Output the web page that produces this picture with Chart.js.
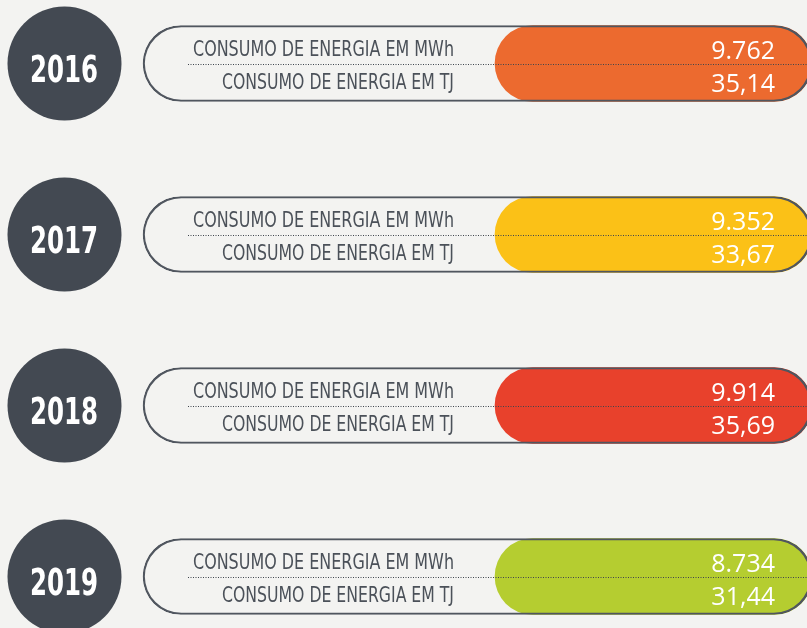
<!DOCTYPE html>
<html>
<head>
<meta charset="utf-8">
<script src="https://cdn.jsdelivr.net/npm/chart.js@4.4.1/dist/chart.umd.min.js"></script>
<style>
  html, body { margin: 0; padding: 0; background: #f3f3f1; width: 807px; height: 628px; overflow: hidden; }
  /* rows sit 171px apart, so the plot is taller than the window and shifted up */
  #wrap { position: absolute; left: 0; top: -22px; width: 807px; height: 684px; }
</style>
</head>
<body>
<div id="wrap"><canvas id="energyChart"></canvas></div>
<script>
// Energy consumption per year
const years = ['2016', '2017', '2018', '2019'];
const mwh = [9762, 9352, 9914, 8734];
const tj = [35.14, 33.67, 35.69, 31.44];
const pillColors = ['#ec6a2f', '#fbc117', '#e8412c', '#b5cd30'];
const labelMWh = 'CONSUMO DE ENERGIA EM MWh';
const labelTJ = 'CONSUMO DE ENERGIA EM TJ';

// Layout (pixels on the hidden x scale)
const OUTLINE = [143, 812];
const FILL = [495, 812];
const CIRCLE_X = 64.5;
const CONDENSED = '"Liberation Sans Narrow", "DejaVu Sans Condensed", "Roboto Condensed", sans-serif';

const fmtMWh = (v) => String(v).replace(/\B(?=(\d{3})+(?!\d))/g, '.');
const fmtTJ = (v) => v.toFixed(2).replace('.', ',');

// Text squeezed/stretched horizontally to a given width (condensed look)
function fitText(ctx, text, x, y, width, font, color, align) {
  ctx.save();
  ctx.font = font;
  const w = ctx.measureText(text).width;
  ctx.translate(x, y);
  ctx.scale(width / w, 1);
  ctx.fillStyle = color;
  ctx.textAlign = align;
  ctx.textBaseline = 'alphabetic';
  ctx.fillText(text, 0, 0);
  ctx.restore();
}

const rowText = {
  id: 'rowText',
  afterDatasetsDraw(chart) {
    const ctx = chart.ctx;
    const fills = chart.getDatasetMeta(1).data;
    const dots = chart.getDatasetMeta(2).data;
    years.forEach((yr, i) => {
      const bar = fills[i];
      const yc = bar.y;

      // dotted divider across the row
      ctx.save();
      ctx.strokeStyle = '#3f454d';
      ctx.lineWidth = 1;
      ctx.setLineDash([1, 1.5]);
      ctx.beginPath();
      ctx.moveTo(188, Math.round(yc) + 0.5);
      ctx.lineTo(chart.width, Math.round(yc) + 0.5);
      ctx.stroke();
      ctx.restore();

      // row labels
      const lx = bar.base - 41;
      fitText(ctx, labelMWh, lx, yc - 8, 261, '21.5px ' + CONDENSED, '#4b5159', 'right');
      fitText(ctx, labelTJ, lx, yc + 25, 232, '21.5px ' + CONDENSED, '#4b5159', 'right');

      // values
      ctx.save();
      ctx.fillStyle = '#ffffff';
      ctx.font = '25px "Open Sans", sans-serif';
      ctx.textAlign = 'right';
      ctx.textBaseline = 'alphabetic';
      ctx.fillText(fmtMWh(mwh[i]), bar.x - 37, yc - 5);
      ctx.fillText(fmtTJ(tj[i]), bar.x - 37, yc + 28.5);
      ctx.restore();

      // year inside the circle
      const p = dots[i];
      fitText(ctx, yr, p.x - 0.5, p.y + 18, 68, 'bold 37px ' + CONDENSED, '#ffffff', 'center');
    });
  },
};

new Chart(document.getElementById('energyChart'), {
  data: {
    labels: years,
    datasets: [
      {
        type: 'bar',
        data: years.map(() => OUTLINE),
        backgroundColor: 'rgba(0,0,0,0)',
        borderColor: '#50565f',
        borderWidth: 1.5,
        borderRadius: 38,
        borderSkipped: false,
        barThickness: 76,
        grouped: false,
        order: 0,
      },
      {
        type: 'bar',
        data: years.map(() => FILL),
        backgroundColor: pillColors,
        borderWidth: 0,
        borderRadius: 38,
        borderSkipped: false,
        barThickness: 76,
        grouped: false,
        order: 1,
      },
      {
        type: 'scatter',
        data: years.map((y) => ({ x: CIRCLE_X, y })),
        pointRadius: 57,
        pointHoverRadius: 57,
        backgroundColor: '#434952',
        borderWidth: 0,
        order: 2,
      },
    ],
  },
  options: {
    indexAxis: 'y',
    responsive: true,
    maintainAspectRatio: false,
    animation: false,
    events: [],
    layout: { padding: 0, autoPadding: false },
    plugins: { legend: { display: false }, tooltip: { enabled: false } },
    scales: {
      x: { type: 'linear', min: 0, max: 807, display: false },
      y: { type: 'category', labels: years, offset: true, display: false },
    },
  },
  plugins: [rowText],
});
</script>
</body>
</html>
